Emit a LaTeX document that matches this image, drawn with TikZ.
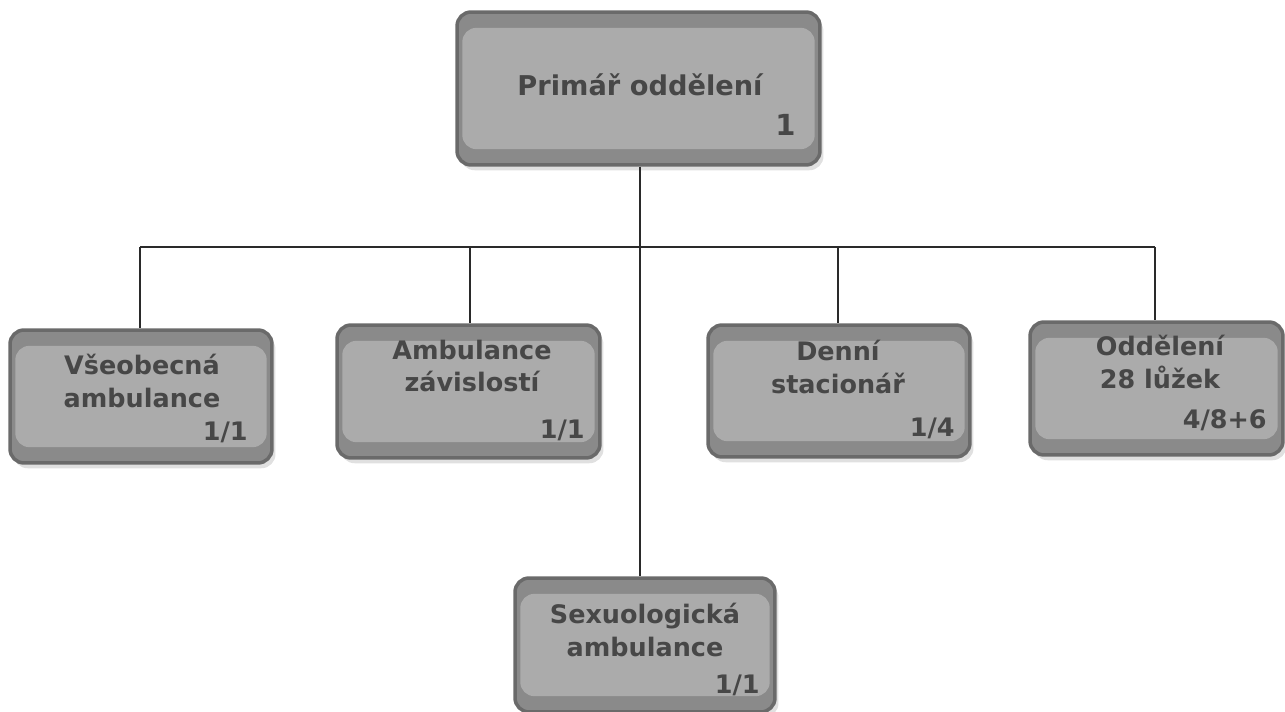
\documentclass[tikz,border=0pt]{standalone}
\usepackage{fontspec}
\setmainfont{DejaVu Sans}
\usetikzlibrary{shadows}
\definecolor{boxfill}{HTML}{ABABAB}
\definecolor{boxdark}{HTML}{8A8A8A}
\definecolor{boxedge}{HTML}{6A6A6A}
\definecolor{txt}{HTML}{474747}
\definecolor{linec}{HTML}{2A2A2A}
\tikzset{
  box/.style={draw=boxedge, line width=2pt, fill=boxdark, rounded corners=8pt,
    drop shadow={fill=black!12, shadow xshift=2pt, shadow yshift=-3pt, opacity=1},
    path picture={\fill[boxfill] ([xshift=3pt,yshift=-9pt]path picture bounding box.north west) rectangle ([xshift=-3pt,yshift=9pt]path picture bounding box.south east);}},
  lbl/.style={text=txt, font=\bfseries\fontsize{14.5}{18.7}\selectfont, align=center, inner sep=0pt},
  toplbl/.style={text=txt, font=\bfseries\fontsize{15.5}{20}\selectfont, align=center, inner sep=0pt},
  cnt/.style={text=txt, font=\bfseries\fontsize{14.5}{18}\selectfont, anchor=east, inner sep=0pt},
  conn/.style={draw=linec, line width=1.1pt},
}
\begin{document}
\begin{tikzpicture}[x=0.02cm, y=-0.02cm]
\useasboundingbox (0,0) rectangle (1285,712);
% boxes
\node[box, minimum width=7.26cm, minimum height=3.06cm] (top) at (638.5,88.5) {};
\node[box, minimum width=5.24cm, minimum height=2.66cm] (b1) at (141,396.5) {};
\node[box, minimum width=5.26cm, minimum height=2.66cm] (b2) at (468.5,391.5) {};
\node[box, minimum width=5.24cm, minimum height=2.64cm] (b3) at (839,391) {};
\node[box, minimum width=5.06cm, minimum height=2.66cm] (b4) at (1156.5,388.5) {};
\node[box, minimum width=5.20cm, minimum height=2.68cm] (b5) at (645,645) {};
% texts
\node[toplbl] (t0) at (640,85) {Primář oddělení};
\node[cnt, font=\bfseries\fontsize{16.5}{20}\selectfont] (c0) at (796,125) {1};
\node[lbl] (t1) at (142,381) {Všeobecná\\ambulance};
\node[cnt] (c1) at (248,432) {1/1};
\node[lbl] (t2) at (472,366) {Ambulance\\závislostí};
\node[cnt] (c2) at (585,430) {1/1};
\node[lbl] (t3) at (838,367) {Denní\\stacionář};
\node[cnt] (c3) at (955,428) {1/4};
\node[lbl] (t4) at (1160,362) {Oddělení\\28 lůžek};
\node[cnt] (c4) at (1267,420) {4/8+6};
\node[lbl] (t5) at (645,630) {Sexuologická\\ambulance};
\node[cnt] (c5) at (760,685) {1/1};
% connectors
\coordinate (bus) at (640,247);
\coordinate (busL) at (140,247);
\coordinate (busR) at (1155,247);
\draw[conn] (top.south -| bus) -- (b5.north -| bus);
\draw[conn] (busL) -- (busR);
\draw[conn] (busL) -- (b1.north -| busL);
\draw[conn] (470,247) -- (b2.north -| 470,0);
\draw[conn] (838,247) -- (b3.north -| 838,0);
\draw[conn] (busR) -- (b4.north -| busR);
\end{tikzpicture}
\end{document}
